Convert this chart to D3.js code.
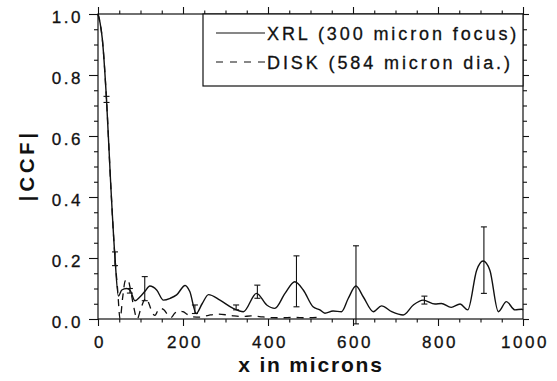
<!DOCTYPE html>
<html>
<head>
<meta charset="utf-8">
<script src="https://cdn.jsdelivr.net/npm/d3@7"></script>
<style>
  body { margin: 0; background: #fff; }
  svg { display: block; font-family: "Liberation Sans", Arial, Helvetica, sans-serif; }
</style>
</head>
<body>
<div id="chart"></div>
<script>
// XRL (300 micron focus) |CCF| curve
var xrlX = [0, 5, 10, 20, 30, 40, 48, 56, 67, 75, 87, 99, 110, 122, 138, 154, 170, 185, 205, 216,
  231, 245, 260, 287, 318, 342, 373, 397, 416, 440, 463, 483, 506, 522, 534, 553, 573, 589, 607, 624,
  648, 667, 691, 718, 742, 765, 793, 808, 831, 852, 870, 891, 906, 922, 942, 961, 981, 997, 1000];
var xrlY = [1.0, 0.97, 0.92, 0.72, 0.44, 0.20, 0.075, 0.095, 0.10, 0.095, 0.06, 0.073, 0.09, 0.108, 0.095, 0.062, 0.068, 0.079, 0.11, 0.09,
  0.018, 0.05, 0.08, 0.062, 0.035, 0.024, 0.084, 0.046, 0.035, 0.084, 0.122, 0.095, 0.04, 0.03, 0.019, 0.026, 0.024, 0.068, 0.108, 0.073,
  0.024, 0.043, 0.024, 0.013, 0.046, 0.062, 0.049, 0.051, 0.038, 0.049, 0.03, 0.16, 0.19, 0.16, 0.024, 0.057, 0.03, 0.032, 0.03];

// DISK (584 micron dia.) |CCF| curve
var diskX = [0, 5, 10, 20, 30, 40, 46, 52, 58, 64, 70, 76, 84, 92, 100, 108, 114, 120, 128, 134,
  140, 146, 155, 165, 172, 180, 190, 200, 210, 220, 240, 260, 280, 300, 320, 340, 360, 380, 400, 430,
  460, 490, 520];
var diskY = [1.0, 0.97, 0.92, 0.72, 0.44, 0.20, 0.10, 0.0, 0.07, 0.125, 0.13, 0.10, 0.04, 0.0, 0.03, 0.06, 0.068, 0.05, 0.02, 0.012,
  0.025, 0.035, 0.03, 0.012, 0.005, 0.018, 0.026, 0.024, 0.015, 0.008, 0.006, 0.012, 0.016, 0.014, 0.01, 0.008, 0.01, 0.008, 0.005, 0.004,
  0.005, 0.004, 0.006];

// error bars on the XRL curve
var errX = [20, 40, 75, 110, 228, 325, 375, 467, 607, 768, 908];
var errLo = [0.71, 0.175, 0.085, 0.06, 0.018, 0.03, 0.068, 0.04, -0.016, 0.049, 0.084];
var errHi = [0.73, 0.22, 0.10, 0.139, 0.046, 0.046, 0.111, 0.207, 0.24, 0.075, 0.302];

var xTicks = [0, 200, 400, 600, 800, 1000];
var yTicks = [0, 0.2, 0.4, 0.6, 0.8, 1.0];
var legendLabels = ["XRL (300 micron focus)", "DISK (584 micron dia.)"];

var W = 557, H = 381;
var margin = { top: 14, right: 34, bottom: 62, left: 98 };
var ink = "#111";

var svg = d3.select("#chart").append("svg")
  .attr("width", W)
  .attr("height", H);

var x = d3.scaleLinear().domain([0, 1000]).range([margin.left, W - margin.right]);
var y = d3.scaleLinear().domain([0, 1]).range([H - margin.bottom, margin.top]);

var minorX = d3.range(0, 1001, 50).filter((v) => v % 200 !== 0);
var minorY = d3.range(0, 21).map((i) => i * 0.05).filter((v, i) => i % 4 !== 0);

function styleAxis(g) {
  g.select(".domain").remove();
  g.selectAll("line").attr("stroke", ink).attr("stroke-width", 1.1);
  g.selectAll("text")
    .attr("fill", ink)
    .attr("stroke", ink)
    .attr("stroke-width", 0.3)
    .attr("font-size", 17)
    .attr("letter-spacing", "2.5px");
}

// bottom axis
svg.append("g")
  .attr("transform", "translate(0," + y(0) + ")")
  .call(d3.axisBottom(x).tickValues(xTicks).tickSize(7).tickPadding(10).tickFormat(d3.format("d")))
  .call(styleAxis)
  .call((g) => g.selectAll("text").attr("dx", "1.5"));
svg.append("g")
  .attr("transform", "translate(0," + y(0) + ")")
  .call(d3.axisBottom(x).tickValues(minorX).tickSize(3.5).tickFormat(""))
  .call(styleAxis);

// top axis
svg.append("g")
  .attr("transform", "translate(0," + y(1) + ")")
  .call(d3.axisTop(x).tickValues(xTicks).tickSize(7).tickFormat(""))
  .call(styleAxis);
svg.append("g")
  .attr("transform", "translate(0," + y(1) + ")")
  .call(d3.axisTop(x).tickValues(minorX).tickSize(3.5).tickFormat(""))
  .call(styleAxis);

// left axis
svg.append("g")
  .attr("transform", "translate(" + x(0) + ",0)")
  .call(d3.axisLeft(y).tickValues(yTicks).tickSize(9).tickPadding(6).tickFormat(d3.format(".1f")))
  .call(styleAxis)
  .call((g) => g.selectAll("text").attr("dy", "0.49em"));
svg.append("g")
  .attr("transform", "translate(" + x(0) + ",0)")
  .call(d3.axisLeft(y).tickValues(minorY).tickSize(4).tickFormat(""))
  .call(styleAxis);

// right axis
svg.append("g")
  .attr("transform", "translate(" + x(1000) + ",0)")
  .call(d3.axisRight(y).tickValues(yTicks).tickSize(6).tickFormat(""))
  .call(styleAxis);
svg.append("g")
  .attr("transform", "translate(" + x(1000) + ",0)")
  .call(d3.axisRight(y).tickValues(minorY).tickSize(4).tickFormat(""))
  .call(styleAxis);

// frame
svg.append("rect")
  .attr("x", x(0))
  .attr("y", y(1))
  .attr("width", x(1000) - x(0))
  .attr("height", y(0) - y(1))
  .attr("fill", "none")
  .attr("stroke", ink)
  .attr("stroke-width", 1.2);

// curves
var line = d3.line()
  .x((d) => x(d[0]))
  .y((d) => y(d[1]))
  .curve(d3.curveMonotoneX);

svg.append("path")
  .datum(diskX.map((v, i) => [v, diskY[i]]))
  .attr("d", line)
  .attr("fill", "none")
  .attr("stroke", ink)
  .attr("stroke-width", 1.3)
  .attr("stroke-dasharray", "7,6");

svg.append("path")
  .datum(xrlX.map((v, i) => [v, xrlY[i]]))
  .attr("d", line)
  .attr("fill", "none")
  .attr("stroke", ink)
  .attr("stroke-width", 1.4);

// error bars
var err = svg.append("g")
  .selectAll("g")
  .data(errX.map((v, i) => ({ x: v, lo: errLo[i], hi: errHi[i] })))
  .join("g")
  .attr("stroke", ink)
  .attr("stroke-width", 1.1);
err.append("line")
  .attr("x1", (d) => x(d.x)).attr("x2", (d) => x(d.x))
  .attr("y1", (d) => y(d.lo)).attr("y2", (d) => y(d.hi));
err.append("line")
  .attr("x1", (d) => x(d.x) - 3).attr("x2", (d) => x(d.x) + 3)
  .attr("y1", (d) => y(d.lo)).attr("y2", (d) => y(d.lo));
err.append("line")
  .attr("x1", (d) => x(d.x) - 3).attr("x2", (d) => x(d.x) + 3)
  .attr("y1", (d) => y(d.hi)).attr("y2", (d) => y(d.hi));

// legend
var legend = svg.append("g");
legend.append("rect")
  .attr("x", 203)
  .attr("y", y(1))
  .attr("width", x(1000) - 203)
  .attr("height", 72)
  .attr("fill", "#fff")
  .attr("stroke", ink)
  .attr("stroke-width", 1.2);
legendLabels.forEach(function (label, i) {
  var ly = 33 + i * 29;
  legend.append("line")
    .attr("x1", 216).attr("x2", 265)
    .attr("y1", ly).attr("y2", ly)
    .attr("stroke", ink)
    .attr("stroke-width", 1.2)
    .attr("stroke-dasharray", i === 1 ? "7,7" : null);
  legend.append("text")
    .attr("x", 267)
    .attr("y", ly + 6.5)
    .attr("font-size", 18)
    .attr("letter-spacing", "2.9px")
    .attr("fill", ink)
    .attr("stroke", ink)
    .attr("stroke-width", 0.3)
    .text(label);
});

// axis titles
svg.append("text")
  .attr("x", 311)
  .attr("y", 372)
  .attr("text-anchor", "middle")
  .attr("font-size", 21)
  .attr("font-weight", "bold")
  .attr("letter-spacing", "1.8px")
  .attr("fill", ink)
  .text("x in microns");

svg.append("text")
  .attr("transform", "translate(34,165) rotate(-90)")
  .attr("text-anchor", "middle")
  .attr("font-size", 20)
  .attr("font-weight", "bold")
  .attr("letter-spacing", "4px")
  .attr("fill", ink)
  .text("|CCF|");
</script>
</body>
</html>
